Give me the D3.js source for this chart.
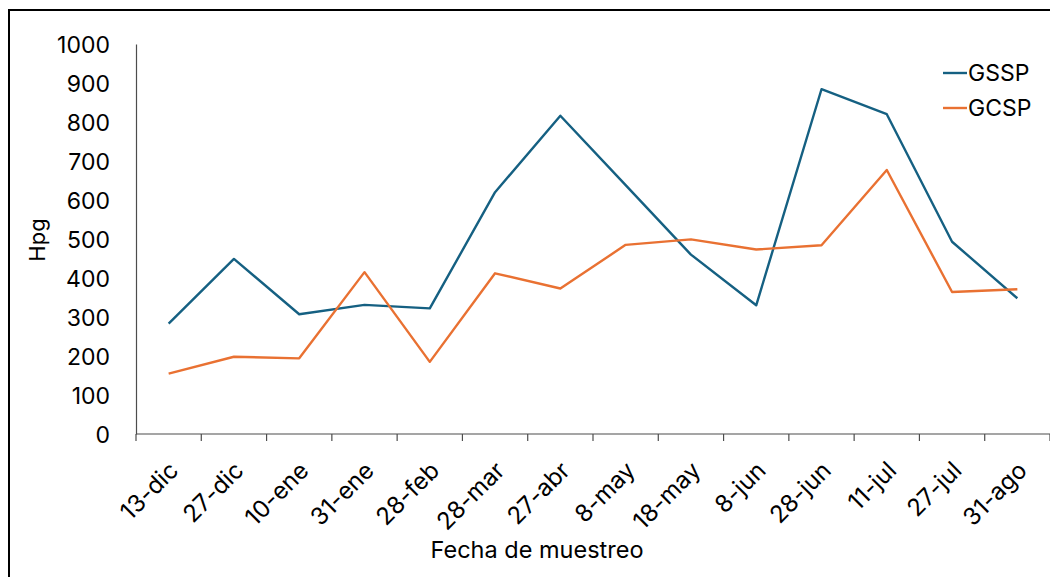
<!DOCTYPE html>
<html lang="es">
<meta charset="utf-8">
<head>
  <script src="https://d3js.org/d3.v7.min.js"></script>
  <style>
    body { margin: 0; background: #fff; }
    text { font-family: Inter, "Liberation Sans", Arial, sans-serif; fill: #000; }
  </style>
</head>
<body>
  <div id="chart"></div>
  <script>
    // data
    var fechas = ["13-dic", "27-dic", "10-ene", "31-ene", "28-feb", "28-mar", "27-abr",
      "8-may", "18-may", "8-jun", "28-jun", "11-jul", "27-jul", "31-ago"];
    var gssp = [283, 449, 307, 331, 322, 620, 816, 638, 460, 330, 884, 820, 493, 348];
    var gcsp = [155, 198, 194, 415, 185, 412, 373, 485, 499, 473, 484, 677, 364, 371];
    var yTicks = [0, 100, 200, 300, 400, 500, 600, 700, 800, 900, 1000];

    var W = 1050, H = 577;
    var margin = { top: 44, right: 0, bottom: 143, left: 136 },
      width = 1050 - margin.left - margin.right,
      height = H - margin.top - margin.bottom;

    var svg = d3.select("#chart").append("svg")
      .attr("width", W).attr("height", H);

    // outer frame
    svg.append("rect")
      .attr("x", 9).attr("y", 10)
      .attr("width", 1100).attr("height", 700)
      .attr("fill", "none").attr("stroke", "#000").attr("stroke-width", 2);

    var g = svg.append("g")
      .attr("transform", "translate(" + margin.left + "," + margin.top + ")");

    var x = d3.scaleBand().domain(fechas).range([0, width]);
    var y = d3.scaleLinear().domain([0, 1000]).range([height, 0]);

    // y axis
    var yAxis = g.append("g")
      .call(d3.axisLeft(y).tickValues(yTicks).tickFormat(d3.format("d")).tickSize(0).tickPadding(26));
    yAxis.select(".domain").attr("stroke", "#4d4d4d").attr("stroke-width", 1.2);
    yAxis.selectAll("text").style("font-size", "23px").attr("dy", "0.36em");

    // x axis with ticks at band boundaries
    var xAxis = g.append("g").attr("transform", "translate(0," + height + ")");
    xAxis.append("line")
      .attr("x1", 0).attr("x2", width)
      .attr("stroke", "#4d4d4d").attr("stroke-width", 1.2);
    xAxis.selectAll(".tk").data(fechas.concat(["_end"]))
      .enter().append("line")
      .attr("class", "tk")
      .attr("x1", function (d, i) { return i * x.bandwidth(); })
      .attr("x2", function (d, i) { return i * x.bandwidth(); })
      .attr("y1", 0).attr("y2", 7)
      .attr("stroke", "#4d4d4d").attr("stroke-width", 1.2);
    xAxis.selectAll(".lbl").data(fechas)
      .enter().append("text")
      .attr("class", "lbl")
      .attr("transform", function (d) {
        return "translate(" + (x(d) + x.bandwidth() / 2 + 11) + ",38) rotate(-45)";
      })
      .attr("text-anchor", "end")
      .style("font-size", "24px")
      .text(function (d) { return d; });

    // lines
    var series = [
      { name: "GSSP", values: gssp, color: "#156082" },
      { name: "GCSP", values: gcsp, color: "#E97132" }
    ];
    var line = d3.line()
      .x(function (d, i) { return x(fechas[i]) + x.bandwidth() / 2; })
      .y(function (d) { return y(d); });

    g.selectAll(".serie").data(series)
      .enter().append("path")
      .attr("class", "serie")
      .attr("d", function (d) { return line(d.values); })
      .attr("fill", "none")
      .attr("stroke", function (d) { return d.color; })
      .attr("stroke-width", 2.4)
      .attr("stroke-linejoin", "round");

    // legend
    var leg = svg.selectAll(".leg").data(series)
      .enter().append("g")
      .attr("class", "leg")
      .attr("transform", function (d, i) { return "translate(943," + (73 + i * 35) + ")"; });
    leg.append("line")
      .attr("x1", 0).attr("x2", 24)
      .attr("stroke", function (d) { return d.color; })
      .attr("stroke-width", 2.4);
    leg.append("text")
      .attr("x", 25).attr("dy", "0.36em")
      .style("font-size", "23px")
      .text(function (d) { return d.name; });

    // axis titles
    svg.append("text")
      .attr("x", 537).attr("y", 558)
      .attr("text-anchor", "middle")
      .style("font-size", "23.5px")
      .text("Fecha de muestreo");
    svg.append("text")
      .attr("transform", "translate(37,240) rotate(-90)")
      .attr("text-anchor", "middle")
      .attr("dy", "0.36em")
      .style("font-size", "22px")
      .text("Hpg");
  </script>
</body>
</html>
